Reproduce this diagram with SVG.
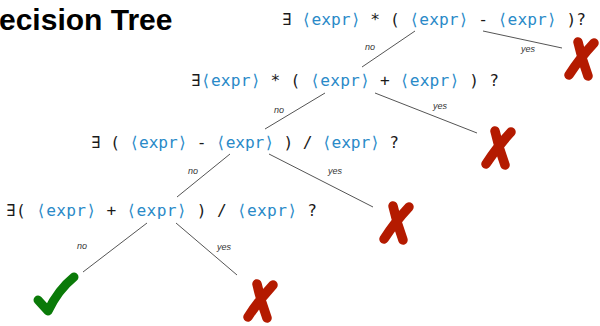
<svg xmlns="http://www.w3.org/2000/svg" width="600" height="326" viewBox="0 0 600 326">
<style>
.title{font-family:"Liberation Sans",Arial,sans-serif;font-weight:bold;font-size:30px;fill:#000}
.q{font-family:"DejaVu Sans Mono",monospace;font-size:16.2px;fill:#1a1a1a}
.e{fill:#2a8ac8}
.lbl{font-family:"Liberation Sans",Arial,sans-serif;font-style:italic;font-size:9px;fill:#333;text-anchor:middle}
.edge{stroke:#555;stroke-width:1;fill:none}
.xmark{stroke:#b41a00;stroke-width:9.5;stroke-linecap:round;stroke-linejoin:round;fill:none}
.ok{stroke:#0a7a08;stroke-width:9;stroke-linecap:round;stroke-linejoin:round;fill:none}
</style>
<defs>
<path id="cross" d="M14 5 Q18 23 24 39 M30 6 Q16 21 5 38"/>
</defs>
<text class="title" x="-1" y="30">ecision Tree</text>
<g id="connectors">
<line class="edge" x1="415" y1="31" x2="362" y2="67"/>
<line class="edge" x1="483" y1="31" x2="562" y2="48"/>
<line class="edge" x1="325" y1="93" x2="265" y2="129"/>
<line class="edge" x1="375" y1="93" x2="477" y2="133"/>
<line class="edge" x1="230" y1="154" x2="177" y2="197"/>
<line class="edge" x1="269" y1="154" x2="373" y2="207"/>
<line class="edge" x1="147" y1="223" x2="83" y2="272"/>
<line class="edge" x1="176" y1="223" x2="237" y2="275"/>
<text class="lbl" x="370" y="50">no</text>
<text class="lbl" x="528" y="52">yes</text>
<text class="lbl" x="279" y="113">no</text>
<text class="lbl" x="440" y="109">yes</text>
<text class="lbl" x="193" y="174">no</text>
<text class="lbl" x="335" y="174">yes</text>
<text class="lbl" x="82" y="249">no</text>
<text class="lbl" x="224" y="250">yes</text>
</g>
<g id="q1"><text class="q" x="282" y="25" textLength="304" lengthAdjust="spacing">∃ <tspan class="e">⟨expr⟩</tspan> * ( <tspan class="e">⟨expr⟩</tspan> - <tspan class="e">⟨expr⟩</tspan> )?</text></g>
<g id="q2"><text class="q" x="191" y="86" textLength="308" lengthAdjust="spacing">∃<tspan class="e">⟨expr⟩</tspan> * ( <tspan class="e">⟨expr⟩</tspan> + <tspan class="e">⟨expr⟩</tspan> ) ?</text></g>
<g id="q3"><text class="q" x="91" y="148" textLength="308" lengthAdjust="spacing">∃ ( <tspan class="e">⟨expr⟩</tspan> - <tspan class="e">⟨expr⟩</tspan> ) / <tspan class="e">⟨expr⟩</tspan> ?</text></g>
<g id="q4"><text class="q" x="6" y="216" textLength="311" lengthAdjust="spacing">∃( <tspan class="e">⟨expr⟩</tspan> + <tspan class="e">⟨expr⟩</tspan> ) / <tspan class="e">⟨expr⟩</tspan> ?</text></g>
<g id="no1"><use href="#cross" class="xmark" transform="translate(564,37)"/></g>
<g id="no2"><use href="#cross" class="xmark" transform="translate(481,126)"/></g>
<g id="no3"><use href="#cross" class="xmark" transform="translate(379,201)"/></g>
<g id="no4"><use href="#cross" class="xmark" transform="translate(243,279)"/></g>
<g id="yes"><path class="ok" d="M38 300 L48 311 Q58 290 74 277"/></g>
</svg>
